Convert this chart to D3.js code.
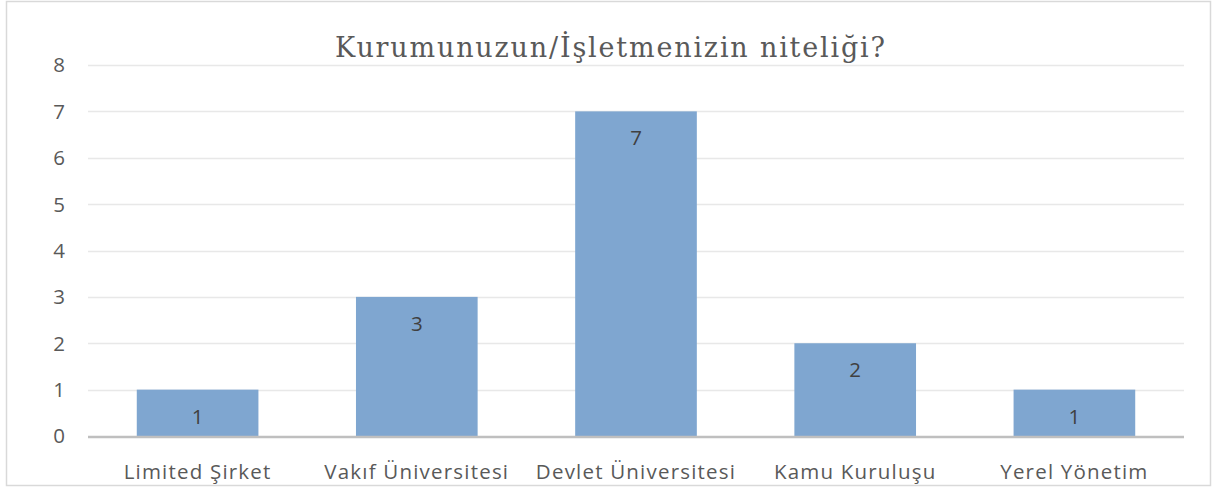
<!DOCTYPE html>
<html>
<head>
<meta charset="utf-8">
<script src="https://cdn.jsdelivr.net/npm/d3@7"></script>
<style>
  body { margin: 0; background: #fff; }
</style>
</head>
<body>
<div id="chart"></div>
<script>
// chart data
const categories = ["Limited Şirket", "Vakıf Üniversitesi", "Devlet Üniversitesi", "Kamu Kuruluşu", "Yerel Yönetim"];
const values = [1, 3, 7, 2, 1];
const yTicks = [0, 1, 2, 3, 4, 5, 6, 7, 8];
const title = "Kurumunuzun/İşletmenizin niteliği?";

const W = 1217, H = 488;
const margin = {top: 65, right: 33, bottom: 52, left: 88};
const width = W - margin.left - margin.right,
    height = H - margin.top - margin.bottom;

const labelFont = "'Open Sans', sans-serif";

const svg = d3.select("#chart")
  .append("svg")
  .attr("width", W)
  .attr("height", H);

// outer border
svg.append("rect")
  .attr("x", 6.5).attr("y", 1.5)
  .attr("width", W - 13).attr("height", H - 4)
  .attr("fill", "#fff")
  .attr("stroke", "#d9d9d9")
  .attr("stroke-width", 1.5);

// title
svg.append("text")
  .attr("x", 610)
  .attr("y", 57)
  .attr("text-anchor", "middle")
  .attr("textLength", 550)
  .attr("lengthAdjust", "spacing")
  .style("font-family", "'DejaVu Serif', serif")
  .style("font-size", "27px")
  .style("fill", "#595959")
  .text(title);

const g = svg.append("g")
  .attr("transform", `translate(${margin.left},${margin.top})`);

const x = d3.scaleBand()
  .domain(categories)
  .range([0, width])
  .paddingInner(0.445)
  .paddingOuter(0.2225);

const y = d3.scaleLinear()
  .domain([0, 8])
  .range([height, 0]);

// gridlines
g.selectAll(".grid")
  .data(yTicks.filter(d => d > 0))
  .join("line")
  .attr("x1", 0).attr("x2", width)
  .attr("y1", d => Math.round(y(d)) + 0.5)
  .attr("y2", d => Math.round(y(d)) + 0.5)
  .attr("stroke", "#e8e8e8")
  .attr("stroke-width", 1.3);

// y labels
g.selectAll(".ylab")
  .data(yTicks)
  .join("text")
  .attr("x", -23)
  .attr("y", d => y(d))
  .attr("dy", "0.36em")
  .attr("text-anchor", "end")
  .style("font-family", labelFont)
  .style("font-size", "20.5px")
  .style("fill", "#595959")
  .text(d => d);

// bars
g.selectAll(".bar")
  .data(values)
  .join("rect")
  .attr("x", (d, i) => x(categories[i]))
  .attr("y", d => y(d))
  .attr("width", x.bandwidth())
  .attr("height", d => height - y(d))
  .attr("fill", "#7fa6d0");

// data labels
g.selectAll(".vlab")
  .data(values)
  .join("text")
  .attr("x", (d, i) => x(categories[i]) + x.bandwidth() / 2)
  .attr("y", d => y(d) + 34)
  .attr("text-anchor", "middle")
  .style("font-family", labelFont)
  .style("font-size", "20.5px")
  .style("fill", "#404040")
  .text(d => d);

// baseline
g.append("line")
  .attr("x1", 0).attr("x2", width)
  .attr("y1", height + 1).attr("y2", height + 1)
  .attr("stroke", "#bfbfbf")
  .attr("stroke-width", 2.5);

// x labels
g.selectAll(".xlab")
  .data(categories)
  .join("text")
  .attr("x", d => x(d) + x.bandwidth() / 2)
  .attr("y", height + 43)
  .attr("text-anchor", "middle")
  .style("font-family", labelFont)
  .style("font-size", "20.5px")
  .style("letter-spacing", "1.2px")
  .style("fill", "#595959")
  .text(d => d);
</script>
</body>
</html>
